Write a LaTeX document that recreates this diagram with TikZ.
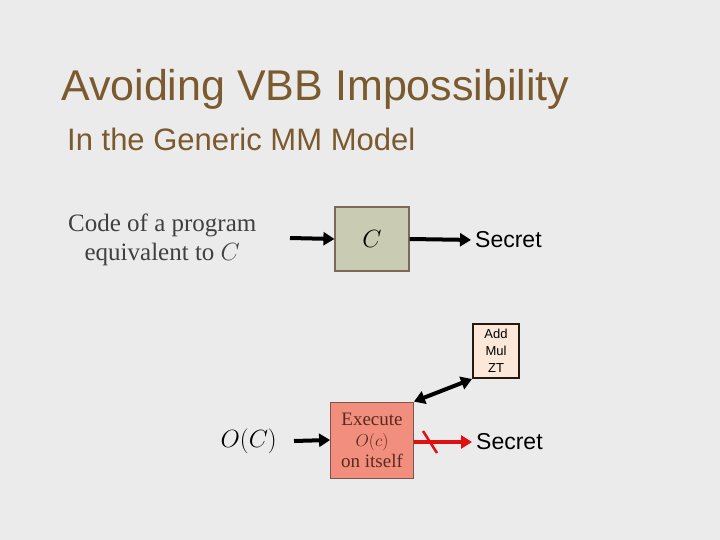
\documentclass[tikz,border=0pt]{standalone}
\usepackage{fontspec}
\setmainfont{Liberation Sans}
\newfontfamily\serifx{Liberation Serif}
\usetikzlibrary{arrows.meta}
\definecolor{bg}{HTML}{EBEBEB}
\definecolor{titlec}{HTML}{7A5A2E}
\definecolor{cfill}{HTML}{C9CBB2}
\definecolor{cbord}{HTML}{7B6A58}
\definecolor{afill}{HTML}{FBE8D8}
\definecolor{efill}{HTML}{F28E7D}
\definecolor{etext}{HTML}{5A2A20}
\definecolor{redc}{HTML}{E01010}
\tikzset{
 arr/.style={line width=4pt,-{Triangle[length=11pt,width=13pt]}},
 lbl/.style={font=\fontsize{23}{25}\selectfont,anchor=west,inner sep=0},
}
\begin{document}
\begin{tikzpicture}[x=1pt,y=-1pt]
\fill[bg] (0,0) rectangle (720,540);
\useasboundingbox (0,0) rectangle (720,540);
\node[anchor=west,inner sep=0,text=titlec,font=\fontsize{43}{46}\selectfont] (title) at (61,89) {Avoiding VBB Impossibility};
\node[anchor=west,inner sep=0,text=titlec,font=\fontsize{31}{34}\selectfont] (sub) at (67,139) {In the Generic MM Model};
\node[anchor=west,inner sep=0,align=center,text=black!75,font=\serifx\fontsize{25}{29}\selectfont] (code) at (68,240) {Code of a program\\equivalent to $C$};
\node[draw=cbord,line width=1.2pt,fill=cfill,minimum width=74pt,minimum height=64pt,font=\fontsize{24}{26}\selectfont] (C) at (372,239) {$C$};
\coordinate (cin) at (290,238);
\draw[arr] (cin) -- (C.west);
\node[lbl] (s1) at (475,240) {Secret};
\draw[arr,shorten >=4pt] (C.east) -- (s1.west);
\node[draw=black!80!brown,line width=2pt,fill=afill,minimum width=46pt,minimum height=54pt,align=center,font=\fontsize{13}{17}\selectfont] (add) at (496,351) {Add\\Mul\\ZT};
\node[draw=etext!80,line width=0.8pt,fill=efill,minimum width=83pt,minimum height=76pt,align=center,text=etext,font=\serifx\fontsize{19}{21}\selectfont] (ex) at (372,440) {Execute\\$O(c)$\\on itself};
\draw[line width=4pt,{Triangle[length=11pt,width=13pt]}-{Triangle[length=11pt,width=13pt]}] (ex.north east) -- (add.south west);
\node[anchor=east,inner sep=0,font=\fontsize{23}{25}\selectfont] (oc) at (277,441) {$O(C)$};
\coordinate (ocin) at (294,441);
\draw[arr] (ocin) -- (ex.west);
\node[lbl] (s2) at (476,442) {Secret};
\draw[arr,redc,shorten >=4pt] (ex.east|-s2) -- (s2.west);
\coordinate (k1) at (423,431);
\coordinate (k2) at (437,453);
\draw[redc,line width=2.5pt] (k1) -- (k2);
\end{tikzpicture}
\end{document}
